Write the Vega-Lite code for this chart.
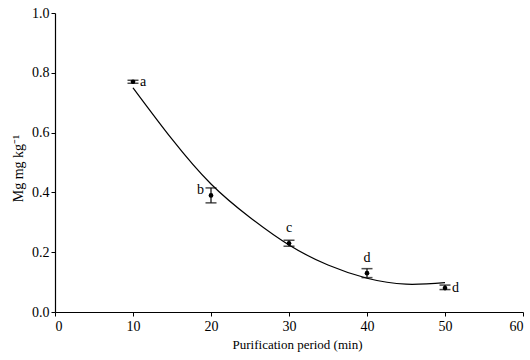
{
  "$schema": "https://vega.github.io/schema/vega-lite/v6.json",
  "autosize": "none",
  "width": 468,
  "height": 299,
  "padding": {"left": 55, "top": 13, "right": 7, "bottom": 48},
  "background": "white",
  "config": {
    "view": {"stroke": null},
    "font": "Liberation Serif"
  },
  "datasets": {
    "pts": [
      {"t": 10, "mg": 0.77, "lo": 0.765, "hi": 0.775, "label": "a", "pos": "right"},
      {"t": 20, "mg": 0.39, "lo": 0.365, "hi": 0.415, "label": "b", "pos": "left"},
      {"t": 30, "mg": 0.23, "lo": 0.22, "hi": 0.24, "label": "c", "pos": "above"},
      {"t": 40, "mg": 0.13, "lo": 0.115, "hi": 0.145, "label": "d", "pos": "above"},
      {"t": 50, "mg": 0.08, "lo": 0.075, "hi": 0.09, "label": "d", "pos": "right"}
    ],
    "fit": [
      {"t": 10, "mg": 0.75},
      {"t": 15, "mg": 0.578},
      {"t": 20, "mg": 0.428},
      {"t": 25, "mg": 0.316},
      {"t": 30, "mg": 0.224},
      {"t": 35, "mg": 0.157},
      {"t": 40, "mg": 0.113},
      {"t": 45, "mg": 0.093},
      {"t": 50, "mg": 0.098}
    ]
  },
  "layer": [
    {
      "data": {"name": "fit"},
      "mark": {"type": "line", "color": "black", "strokeWidth": 1.2, "interpolate": "natural"},
      "encoding": {
        "x": {"field": "t", "type": "quantitative", "scale": {"domain": [0, 60], "nice": false}, "axis": {"values": [0, 10, 20, 30, 40, 50, 60], "title": "Purification period (min)", "titleX": 242, "titlePadding": 5, "labelPadding": 3, "grid": false, "domainColor": "black", "tickColor": "black", "labelColor": "black", "titleColor": "black", "labelFont": "Liberation Serif", "titleFont": "Liberation Serif", "labelFontSize": 14, "titleFontSize": 13, "titleFontWeight": "normal", "tickSize": 4, "domainWidth": 1.2, "tickWidth": 1}},
        "y": {"field": "mg", "type": "quantitative", "scale": {"domain": [0, 1], "nice": false}, "axis": {"values": [0, 0.2, 0.4, 0.6, 0.8, 1.0], "format": ".1f", "title": "Mg mg kg⁻¹", "titleY": 155, "titlePadding": 6, "labelPadding": 2, "grid": false, "domainColor": "black", "tickColor": "black", "labelColor": "black", "titleColor": "black", "labelFont": "Liberation Serif", "titleFont": "Liberation Serif", "labelFontSize": 14, "titleFontSize": 14, "titleFontWeight": "normal", "tickSize": 4, "domainWidth": 1.2, "tickWidth": 1}}
      }
    },
    {
      "data": {"name": "pts"},
      "mark": {"type": "rule", "color": "black", "strokeWidth": 1.2},
      "encoding": {"x": {"field": "t", "type": "quantitative"}, "y": {"field": "lo", "type": "quantitative"}, "y2": {"field": "hi"}}
    },
    {
      "data": {"name": "pts"},
      "mark": {"type": "tick", "color": "black", "orient": "horizontal", "size": 11, "thickness": 1.5},
      "encoding": {"x": {"field": "t", "type": "quantitative"}, "y": {"field": "lo", "type": "quantitative"}}
    },
    {
      "data": {"name": "pts"},
      "mark": {"type": "tick", "color": "black", "orient": "horizontal", "size": 11, "thickness": 1.5},
      "encoding": {"x": {"field": "t", "type": "quantitative"}, "y": {"field": "hi", "type": "quantitative"}}
    },
    {
      "data": {"name": "pts"},
      "mark": {"type": "point", "filled": true, "color": "black", "size": 22, "opacity": 1},
      "encoding": {"x": {"field": "t", "type": "quantitative"}, "y": {"field": "mg", "type": "quantitative"}}
    },
    {
      "data": {"name": "pts"},
      "transform": [{"filter": "datum.pos === 'right'"}],
      "mark": {"type": "text", "align": "left", "baseline": "middle", "dx": 7, "fontSize": 14, "font": "Liberation Serif", "color": "black"},
      "encoding": {"x": {"field": "t", "type": "quantitative"}, "y": {"field": "mg", "type": "quantitative"}, "text": {"field": "label"}}
    },
    {
      "data": {"name": "pts"},
      "transform": [{"filter": "datum.pos === 'left'"}],
      "mark": {"type": "text", "align": "right", "baseline": "middle", "dx": -7, "dy": -5, "fontSize": 14, "font": "Liberation Serif", "color": "black"},
      "encoding": {"x": {"field": "t", "type": "quantitative"}, "y": {"field": "mg", "type": "quantitative"}, "text": {"field": "label"}}
    },
    {
      "data": {"name": "pts"},
      "transform": [{"filter": "datum.pos === 'above'"}],
      "mark": {"type": "text", "align": "center", "baseline": "middle", "dy": -15, "fontSize": 14, "font": "Liberation Serif", "color": "black"},
      "encoding": {"x": {"field": "t", "type": "quantitative"}, "y": {"field": "mg", "type": "quantitative"}, "text": {"field": "label"}}
    }
  ]
}
